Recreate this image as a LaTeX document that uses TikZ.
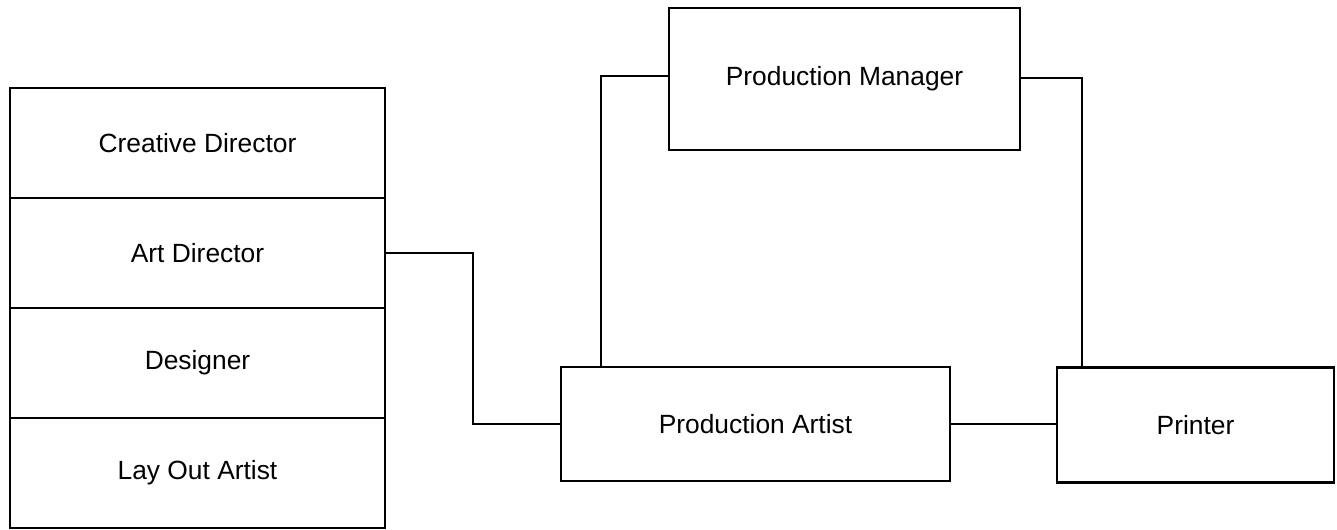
\documentclass[tikz,border=0pt]{standalone}
\usepackage{fontspec}
\setmainfont{Liberation Sans}
\usepackage{tikz}
\usetikzlibrary{
  positioning,
  calc
}
\tikzset{
  rolebox/.style={
    draw=black,
    line width=1.3pt,
    fill=white,
    inner sep=4pt,
    align=center,
    font=\fontsize{15}{18}\selectfont,
  },
  link/.style={
    line width=1.3pt,
    draw=black,
  },
}

\begin{document}
\begin{tikzpicture}[
  x=0.02cm, y=-0.02cm,
]
  \useasboundingbox (0,0) rectangle (1337,530);

  % --- Creative team (left stack) ---
  \node[rolebox, minimum width=7.5cm, minimum height=2.2cm] (creative) at (197.5,143) {Creative Director};
  \node[rolebox, minimum width=7.5cm, minimum height=2.2cm] (art)      at (197.5,253) {Art Director};
  \node[rolebox, minimum width=7.5cm, minimum height=2.2cm] (designer) at (197.5,363) {Designer};
  \node[rolebox, minimum width=7.5cm, minimum height=2.2cm] (layout)   at (197.5,473) {Lay Out Artist};

  % --- Production side ---
  \node[rolebox, minimum width=7.02cm, minimum height=2.84cm] (manager) at (844.5,79) {Production Manager};
  \node[rolebox, minimum width=7.78cm, minimum height=2.28cm] (artist)  at (755.5,424) {Production Artist};
  \node[rolebox, minimum width=5.54cm, minimum height=2.3cm]  (printer) at (1195.5,425) {Printer};

  % --- Connections ---
  \draw[link] (art.east) -- ++(87,0) |- (artist.west);
  \draw[link] ([xshift=0.82cm]artist.north west) |- ([yshift=0.06cm]manager.west);
  \draw[link] ([yshift=0.02cm]manager.east) -| ([xshift=0.52cm]printer.north west);
  \draw[link] (artist.east) -- (artist.east -| printer.west);
\end{tikzpicture}
\end{document}
